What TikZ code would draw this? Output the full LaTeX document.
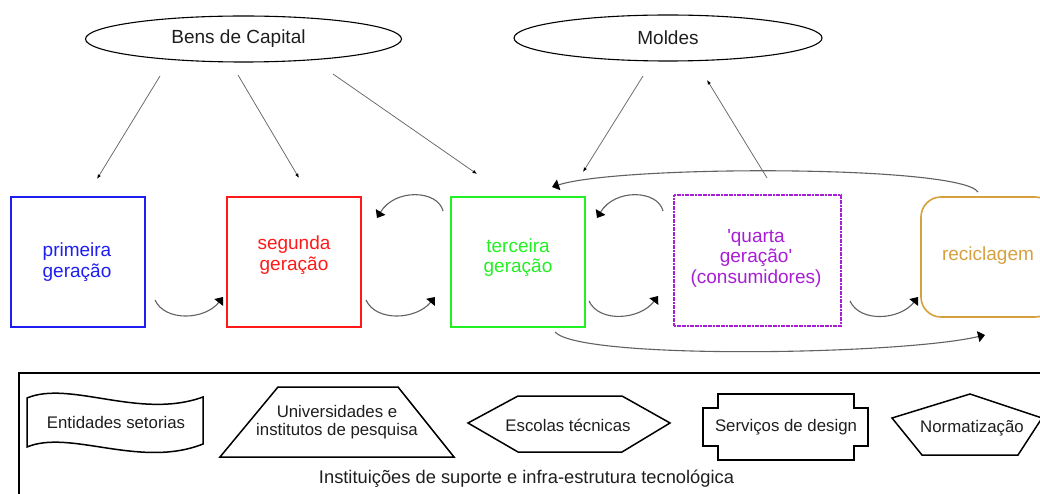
\documentclass[tikz,border=0pt]{standalone}
\usepackage{fontspec}
\setmainfont{Liberation Sans}
\newfontfamily\plainquote{Liberation Sans}[Ligatures=TeXOff]
\usetikzlibrary{shapes.geometric,arrows.meta,calc}

\definecolor{genblue}{RGB}{30,30,240}
\definecolor{genred}{RGB}{255,25,25}
\definecolor{gengreen}{RGB}{35,240,35}
\definecolor{genpurple}{RGB}{168,30,212}
\definecolor{recgold}{RGB}{214,160,62}
\definecolor{inktext}{RGB}{30,30,30}

\newcommand{\sq}{{\plainquote\symbol{"27}}}

\tikzset{
  capnode/.style={draw, ellipse, line width=1.1pt, minimum width=316pt,
    minimum height=46pt, inner sep=0pt, text=inktext,
    font=\fontsize{19}{22}\selectfont},
  genbox/.style={draw, line width=1.6pt, minimum width=134pt,
    minimum height=130pt, inner sep=0pt},
  gentext/.style={align=center, font=\fontsize{19}{20.5}\selectfont},
  feed/.style={draw=black!60, line width=0.75pt,
    -{Latex[length=4.5pt,width=3.5pt,color=black]}},
  loopback/.style={draw=black!62, line width=1.1pt,
    -{Triangle[length=7pt,width=11pt,color=black]}},
  legshape/.style={draw=black, line width=1.5pt, line join=miter},
  legtext/.style={align=center, text=inktext,
    font=\fontsize{16.8}{18}\selectfont},
}

\begin{document}
\begin{tikzpicture}[x=1pt,y=-1pt]
\useasboundingbox (0,0) rectangle (1040,494);

% capital goods and moulds
\node[capnode] (bens) at (243.5,39) {\hspace*{-10pt}Bens de Capital};
\node[capnode, minimum width=308pt] (moldes) at (668,38) {Moldes};

% the generations
\node[genbox, draw=genblue] (g1) at (78,262) {};
\node[genbox, draw=genred] (g2) at (294,262) {};
\node[genbox, draw=gengreen] (g3) at (518,262) {};
\node[genbox, draw=genpurple, minimum width=167pt, minimum height=131pt,
      dash pattern=on 2pt off 0.6pt] (g4) at (757.5,260.5) {};
\node[genbox, draw=recgold, rounded corners=20pt, minimum height=120pt]
      (rec) at (988,257) {};

\node[gentext, text=genblue] (t1) at (77,262) {primeira\\geração};
\node[gentext, text=genred] (t2) at (294,255) {segunda\\geração};
\node[gentext, text=gengreen] (t3) at (518,257.5) {terceira\\geração};
\node[gentext, text=genpurple] (t4) at (756,258)
  {\sq quarta\\geração\sq\\(consumidores)};
\node[gentext, text=recgold] (t5) at (988,256) {reciclagem};

% straight feed lines
\coordinate (b1a) at (160,76);  \coordinate (b1b) at (97,179);
\coordinate (b2a) at (238,75);  \coordinate (b2b) at (299,178);
\coordinate (b3a) at (333,74);  \coordinate (b3b) at (477,174);
\coordinate (m1a) at (643,76);  \coordinate (m1b) at (583,172);
\coordinate (m2a) at (767,178); \coordinate (m2b) at (707,80);
\draw[feed] (b1a) -- (b1b);
\draw[feed] (b2a) -- (b2b);
\draw[feed] (b3a) -- (b3b);
\draw[feed] (m1a) -- (m1b);
\draw[feed] (m2a) -- (m2b);

% forward arcs below the boxes
\coordinate (f1a) at (155,300); \coordinate (f1b) at (223,297);
\coordinate (f2a) at (366,300); \coordinate (f2b) at (435,297);
\coordinate (f3a) at (589,301); \coordinate (f3b) at (658,296);
\coordinate (f4a) at (850,301); \coordinate (f4b) at (918,297);
\draw[loopback] (f1a) .. controls (165,322) and (205,320) .. (f1b);
\draw[loopback] (f2a) .. controls (376,322) and (416,320) .. (f2b);
\draw[loopback] (f3a) .. controls (599,323) and (640,320) .. (f3b);
\draw[loopback] (f4a) .. controls (860,323) and (900,320) .. (f4b);

% backward arcs above the boxes
\coordinate (r1a) at (443,211); \coordinate (r1b) at (377,218);
\coordinate (r2a) at (663,211); \coordinate (r2b) at (597,218);
\draw[loopback] (r1a) .. controls (438,190) and (395,188) .. (r1b);
\draw[loopback] (r2a) .. controls (658,190) and (615,188) .. (r2b);

% long recycling arcs
\coordinate (ua) at (978,192); \coordinate (ub) at (552,187);
\coordinate (la) at (555,332); \coordinate (lb) at (985,335);
\draw[loopback] (ua) .. controls (960,165) and (620,165) .. (ub);
\draw[loopback] (la) .. controls (580,360) and (900,355) .. (lb);

% support institutions frame
\draw[line width=2pt] (19,373) rectangle (1050,505);

\draw[legshape] (27,398) .. controls (70,380) and (140,420) .. (203,397)
  -- (203,444) .. controls (140,469) and (70,429) .. (27,447) -- cycle;
\node[legtext] (ent) at (116,422) {Entidades setorias};

\draw[legshape] (220,457) -- (278,387) -- (398,387) -- (454,457) -- cycle;
\node[legtext] (univ) at (337,422) {Universidades e\\institutos de pesquisa};

\draw[legshape] (468,423) -- (518,396) -- (622,396) -- (670,423)
  -- (622,452) -- (518,452) -- cycle;
\node[legtext] (esc) at (568,425) {Escolas técnicas};

\draw[legshape] (718,394) -- (854,394) -- (854,408) -- (868,408)
  -- (868,446) -- (854,446) -- (854,460) -- (718,460) -- (718,446)
  -- (703,446) -- (703,408) -- (718,408) -- cycle;
\node[legtext] (serv) at (786,427) {Serviços de design};

\draw[legshape] (970,394) -- (1042,418) -- (1018,455) -- (922,455)
  -- (892,418) -- cycle;
\node[legtext] (norm) at (972,428) {Normatização};

\node[legtext, font=\fontsize{18.3}{20}\selectfont] (inst) at (526.5,479)
  {Instituições de suporte e infra-estrutura tecnológica};
\end{tikzpicture}
\end{document}
